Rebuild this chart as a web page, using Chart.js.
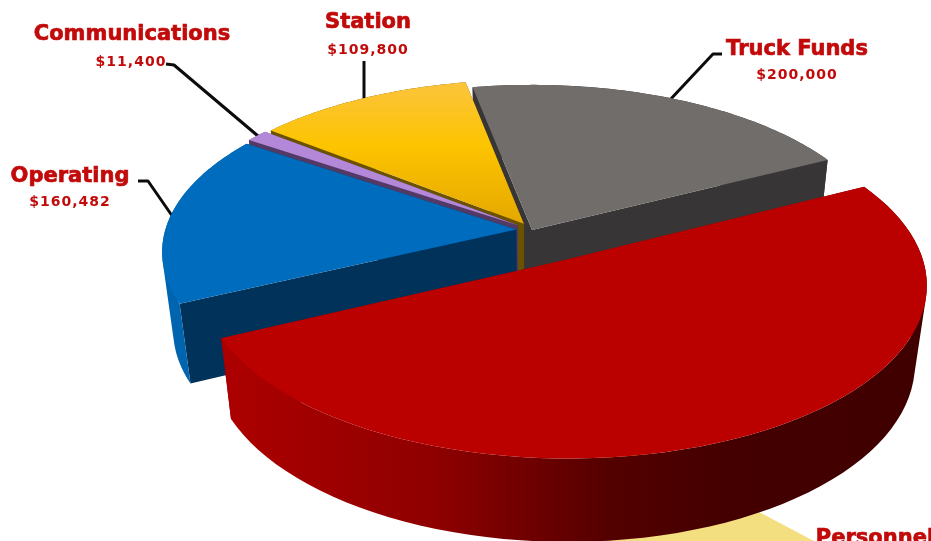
<!DOCTYPE html>
<html>
<head>
<meta charset="utf-8">
<title>Budget pie</title>
<script src="https://cdn.jsdelivr.net/npm/chart.js@4"></script>
<style>
  html, body { margin: 0; padding: 0; background: #fff; overflow: hidden; }
  canvas { display: block; filter: blur(0.4px); }
</style>
</head>
<body>
<canvas id="pie" width="931" height="541"></canvas>
<script>
// values (the big red slice has no readable label or amount)
const sliceNames = ['Truck Funds', 'Unlabelled', 'Operating', 'Communications', 'Station'];
const sliceValues = [200000, 490000, 160482, 11400, 109800];
// Personnel sits on its own behind the red slice, its amount is cropped away
const personnelValues = [183500, 788182];

// look of each slice, same order as sliceNames
const sliceTops = ['#716d6b', '#bb0000', '#006cbd', '#b388d8', 'yellow'];
const sliceWalls = ['#373535', '#7a0000', '#00325a', '#533a66', '#6b5200'];
const sliceRims = ['#373535', 'red', '#0064ae', '#533a66', '#6b5200'];
const sliceOffsets = [0, 20, 4.5, 5, 4.5]; // percent of radius

// camera: plane radius, tilt and perspective
const view = { cx: 532, cy: 230, rx: 351, ry: 164, depth: 80, persp: 0.13, sink: 0.03 };

function project(u, v, z) {
    const s = 1 / (1 - view.persp * v + view.sink * z);
    return { x: view.cx + view.rx * u * s, y: view.cy + (view.ry * v + view.depth * z) * s };
}

function trace(ctx, pts, move) {
    pts.forEach((p, i) => {
        if (i === 0 && move) ctx.moveTo(p.x, p.y);
        else ctx.lineTo(p.x, p.y);
    });
}

function sliceGeometry(arc) {
    const { startAngle, endAngle } = arc.getProps(['startAngle', 'endAngle'], true);
    const mid = (startAngle + endAngle) / 2;
    const off = arc.options.offset / 100;
    const ou = off * Math.cos(mid);
    const ov = off * Math.sin(mid);
    const steps = 72;
    const rim = z => {
        const pts = [];
        for (let i = 0; i <= steps; i++) {
            const a = startAngle + (endAngle - startAngle) * i / steps;
            pts.push(project(ou + Math.cos(a), ov + Math.sin(a), z));
        }
        return pts;
    };
    return { rim, apex: z => project(ou, ov, z) };
}

function fillShape(ctx, style, draw) {
    ctx.beginPath();
    draw();
    ctx.closePath();
    ctx.fillStyle = style;
    ctx.fill();
}

function resolve(ctx, name) {
    if (name === 'yellow') {
        const g = ctx.createLinearGradient(0, 83, 0, 222);
        g.addColorStop(0, '#fbc43c');
        g.addColorStop(0.45, '#fdc400');
        g.addColorStop(1, '#e5a800');
        return g;
    }
    if (name === 'red') {
        const g = ctx.createLinearGradient(230, 0, 920, 0);
        g.addColorStop(0, '#ac0000');
        g.addColorStop(0.3, '#8e0000');
        g.addColorStop(0.55, '#540000');
        g.addColorStop(0.72, '#440000');
        g.addColorStop(1, '#400000');
        return g;
    }
    return name;
}

function signedArea(q) {
    let sum = 0;
    q.forEach((p, i) => {
        const n = q[(i + 1) % q.length];
        sum += p.x * n.y - n.x * p.y;
    });
    return sum;
}

function drawSlice(ctx, arc, top, wall, rimColour) {
    const g = sliceGeometry(arc);
    const topRim = g.rim(0);
    const lowRim = g.rim(1);
    const last = topRim.length - 1;
    // the two cut faces
    fillShape(ctx, wall, () => trace(ctx, [g.apex(0), topRim[0], lowRim[0], g.apex(1)], true));
    fillShape(ctx, wall, () => trace(ctx, [g.apex(0), topRim[last], lowRim[last], g.apex(1)], true));
    // curved outside: one path of strips all wound the same way, it folds at the silhouette
    ctx.beginPath();
    for (let i = 0; i < last; i++) {
        const q = [topRim[i], topRim[i + 1], lowRim[i + 1], lowRim[i]];
        if (signedArea(q) < 0) q.reverse();
        trace(ctx, q, true);
        ctx.closePath();
    }
    ctx.fillStyle = resolve(ctx, rimColour);
    ctx.fill();
    fillShape(ctx, resolve(ctx, top), () => {
        trace(ctx, [g.apex(0)], true);
        trace(ctx, topRim, false);
    });
}

function drawLeader(ctx, pts) {
    ctx.beginPath();
    trace(ctx, pts, true);
    ctx.strokeStyle = '#0c0c0c';
    ctx.lineWidth = 3;
    ctx.lineJoin = 'round';
    ctx.stroke();
}

const leaders = [
    [{ x: 166, y: 64 }, { x: 174, y: 65 }, { x: 258, y: 136 }],
    [{ x: 364, y: 61 }, { x: 364, y: 102 }],
    [{ x: 722, y: 54 }, { x: 713, y: 54 }, { x: 668, y: 102 }],
    [{ x: 138, y: 181 }, { x: 148, y: 181 }, { x: 175, y: 220 }],
    [{ x: 745, y: 514 }, { x: 815, y: 550 }]
];

// name, amount, and where each goes
const captions = [
    { name: 'Communications', amount: '$11,400', x: 132, y: 40, ax: 131, ay: 66 },
    { name: 'Station', amount: '$109,800', x: 368, y: 28, ax: 368, ay: 54 },
    { name: 'Truck Funds', amount: '$200,000', x: 797, y: 55, ax: 797, ay: 79 },
    { name: 'Operating', amount: '$160,482', x: 70, y: 182, ax: 70, ay: 206 },
    { name: 'Personnel', amount: '', x: 875, y: 544, ax: 0, ay: 0 }
];

const pie3d = {
    id: 'pie3d',
    beforeDatasetsDraw(chart) {
        const ctx = chart.ctx;
        ctx.save();
        leaders.forEach(l => drawLeader(ctx, l));
        const arcs = chart.getDatasetMeta(0).data;
        const personnel = chart.getDatasetMeta(1).data[0];
        // back to front: grey, station, communications, operating, personnel, red
        [0, 4, 3, 2].forEach(i => drawSlice(ctx, arcs[i], sliceTops[i], sliceWalls[i], sliceRims[i]));
        drawSlice(ctx, personnel, '#f4df80', '#f4df80', '#f4df80');
        drawSlice(ctx, arcs[1], sliceTops[1], sliceWalls[1], sliceRims[1]);
        ctx.restore();
        return false;
    },
    afterDraw(chart) {
        const ctx = chart.ctx;
        ctx.save();
        ctx.textAlign = 'center';
        ctx.fillStyle = '#c20a0a';
        ctx.strokeStyle = '#c20a0a';
        captions.forEach(c => {
            ctx.font = 'bold 21px "DejaVu Sans"';
            ctx.letterSpacing = '0px';
            ctx.lineWidth = 0.7;
            ctx.fillText(c.name, c.x, c.y);
            ctx.strokeText(c.name, c.x, c.y);
            if (c.amount) {
                ctx.font = 'bold 14px "DejaVu Sans"';
                ctx.letterSpacing = '1px';
                ctx.fillText(c.amount, c.ax, c.ay);
            }
        });
        ctx.restore();
    }
};

new Chart(document.getElementById('pie'), {
    type: 'pie',
    data: {
        labels: sliceNames,
        datasets: [
            { data: sliceValues, offset: sliceOffsets, rotation: -11 },
            { data: personnelValues, offset: [111, 0], rotation: 135 }
        ]
    },
    options: {
        responsive: false,
        animation: false,
        plugins: { legend: { display: false }, tooltip: { enabled: false } }
    },
    plugins: [pie3d]
});
</script>
</body>
</html>
